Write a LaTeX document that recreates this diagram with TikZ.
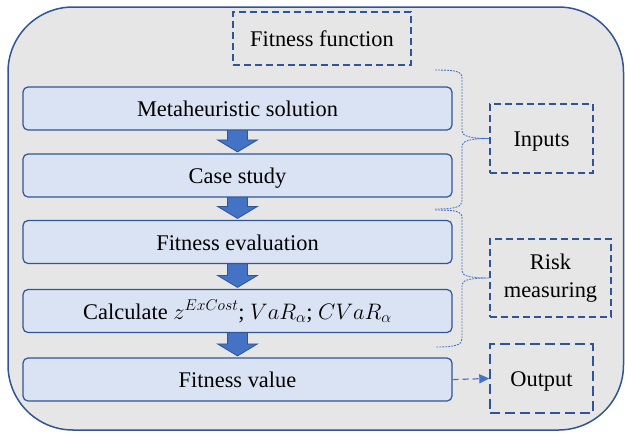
\RequirePackage{fix-cm}
\documentclass[tikz,border=0pt]{standalone}
\usepackage{fontspec}
\setmainfont{Liberation Serif}
\usetikzlibrary{arrows.meta,calc}
\definecolor{outerfill}{HTML}{E7E6E6}
\definecolor{darkblue}{HTML}{2F5597}
\definecolor{midblue}{HTML}{4472C4}
\definecolor{boxfill}{HTML}{DAE3F3}
\pgfdeclarelayer{bg}
\pgfdeclarelayer{mid}
\pgfsetlayers{bg,mid,main}
\begin{document}
\begin{tikzpicture}[x=1pt,y=-1pt,
  font=\fontsize{22.4}{28}\selectfont,
  stepbox/.style={draw=darkblue, fill=boxfill, line width=1.2pt, rounded corners=5pt,
    minimum width=429pt, minimum height=43pt, inner sep=0pt, text height=16pt, text depth=0pt},
  tagbox/.style={draw=darkblue, line width=1.4pt, dash pattern=on 7pt off 4pt, inner sep=0pt},
  flowarrow/.style={draw=darkblue, fill=midblue, line width=0.8pt},
  bracep/.style={draw=midblue, line width=0.9pt, dash pattern=on 1.8pt off 1.2pt},
  linkarrow/.style={draw=midblue, line width=1.2pt, dash pattern=on 6pt off 4pt,
    -{Triangle[length=10pt,width=9pt]}},
]
\useasboundingbox (0,0) rectangle (625,432);

\begin{pgfonlayer}{bg}
\node[draw=darkblue, fill=outerfill, line width=1.5pt, rounded corners=65pt,
  minimum width=615.5pt, minimum height=423pt, inner sep=0pt] (frame) at (315.75,218.5) {};
\end{pgfonlayer}

\node[stepbox] (meta) at (237.5,108.5) {Metaheuristic solution};
\node[stepbox] (case) at (237.5,175.5) {Case study};
\node[stepbox] (feval) at (237.5,242) {Fitness evaluation};
\node[stepbox] (calc) at (237.5,311) {Calculate $z^{ExCost}$; $VaR_{\alpha}$; $CVaR_{\alpha}$};
\node[stepbox] (fval) at (237.5,379.5) {Fitness value};

\node[tagbox, minimum width=178pt, minimum height=53pt, text height=16pt, text depth=0pt] (ff) at (322,38.5) {Fitness function};
\node[tagbox, minimum width=103pt, minimum height=69pt, text height=16pt, text depth=0pt] (inputs) at (541.5,138.5) {Inputs};
\node[tagbox, minimum width=121pt, minimum height=78pt, align=center] (risk) at (550.5,278) {Risk\\measuring};
\node[tagbox, dash pattern=on 10pt off 5pt, minimum width=103pt, minimum height=69pt, text height=16pt, text depth=0pt] (output) at (541.5,378.5) {Output};

\begin{pgfonlayer}{mid}
\foreach \a/\b in {meta/case, case/feval, feval/calc, calc/fval} {
  \path[flowarrow] let \p1=(\a.south), \p2=(\b.north) in
    ({\x1-10pt},{\y1+2pt}) -- ({\x1-10pt},{\y2+13.5pt}) -- ({\x1-20pt},{\y2+13.5pt})
    -- (\x1,{\y2+1.5pt}) -- ({\x1+20pt},{\y2+13.5pt}) -- ({\x1+10pt},{\y2+13.5pt})
    -- ({\x1+10pt},{\y1+2pt}) -- cycle;
}
\end{pgfonlayer}

\coordinate (b1top) at (435,70);
\coordinate (b1bot) at (435,209);
\coordinate (b2top) at (435,210);
\coordinate (b2bot) at (436,347);

\draw[bracep] (b1top) .. controls (455,70) and (462,71) .. (462,78) -- (462,131)
  .. controls (462,136) and (470,138.5) .. (inputs.west)
  .. controls (470,138.5) and (462,141) .. (462,146) -- (462,201)
  .. controls (462,207) and (455,209) .. (b1bot);
\draw[bracep] (b2top) .. controls (455,210) and (462,211) .. (462,218) -- (462,271)
  .. controls (462,276) and (470,278) .. (risk.west)
  .. controls (470,278) and (462,280) .. (462,285) -- (462,339)
  .. controls (462,345) and (455,347) .. (b2bot);

\draw[linkarrow] (fval.east) -- (output.west);
\end{tikzpicture}
\end{document}
